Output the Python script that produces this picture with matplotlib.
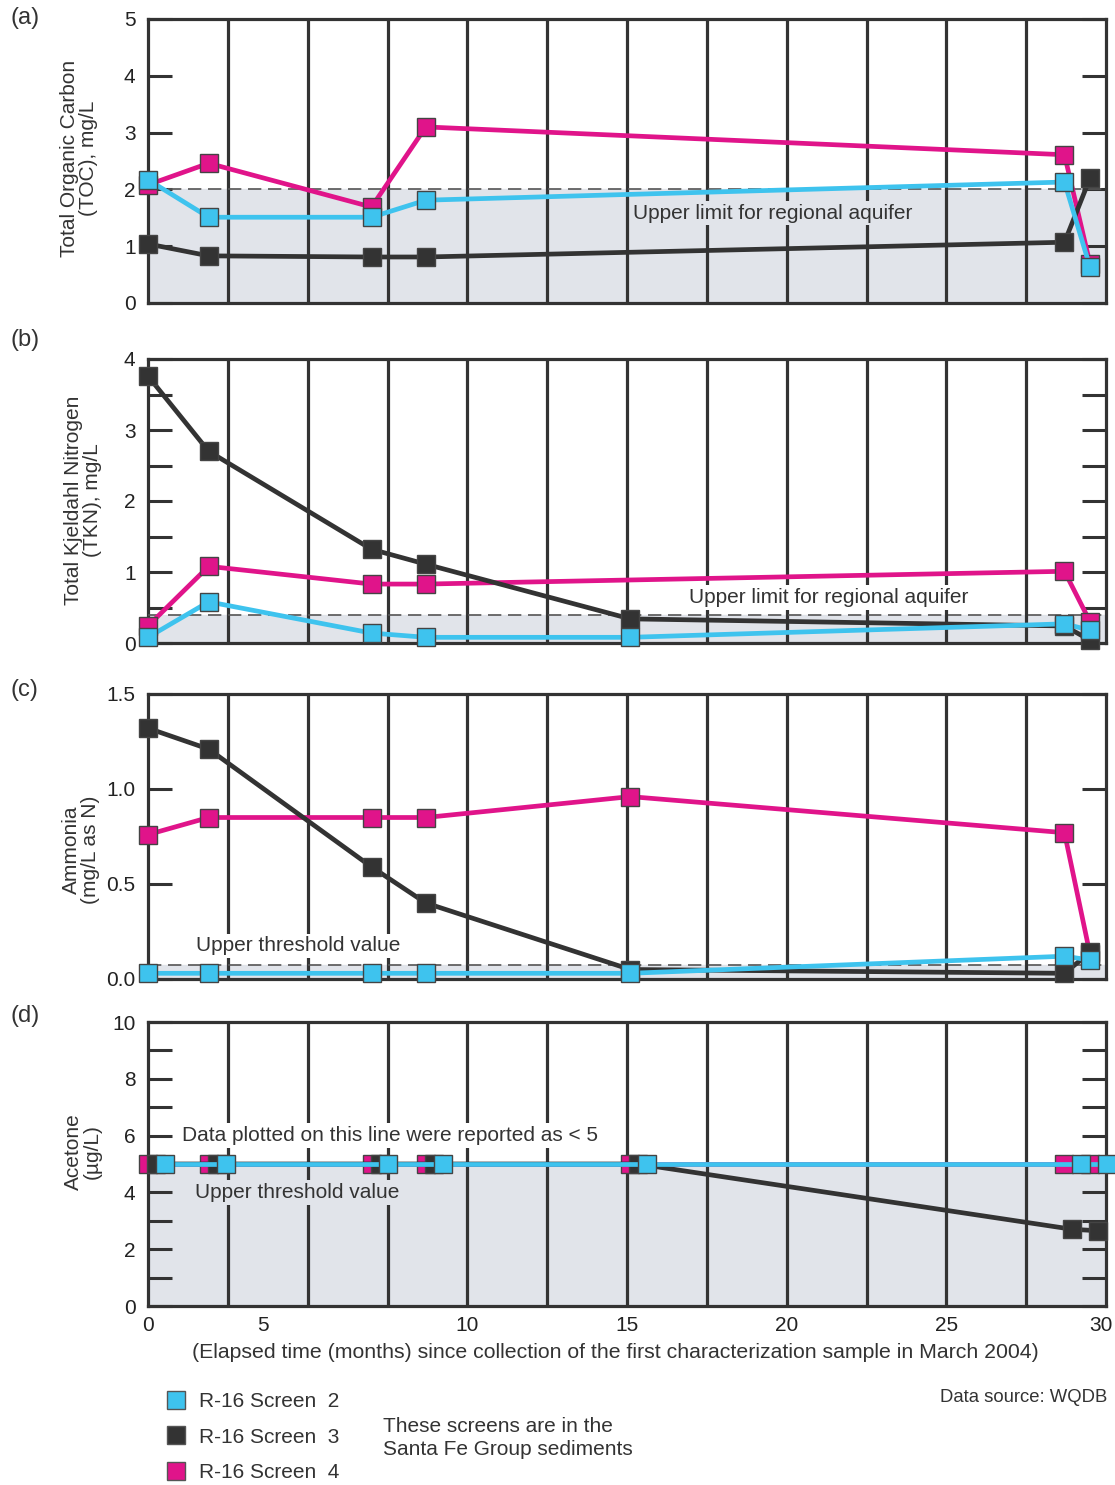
import numpy as np
import matplotlib
matplotlib.use('Agg')
import matplotlib.pyplot as plt
from matplotlib.lines import Line2D

plt.rcParams['font.family'] = ['Liberation Sans', 'DejaVu Sans']

# ---- dados ----
months = [0, 1.9, 7.0, 8.7, 15.1, 28.7, 29.5]
months_no15 = [0, 1.9, 7.0, 8.7, 28.7, 29.5]

# (a) TOC, mg/L
toc_s2 = [2.17, 1.51, 1.51, 1.81, 2.13, 0.63]
toc_s3 = [1.04, 0.83, 0.81, 0.81, 1.07, 2.20]
toc_s4 = [2.08, 2.46, 1.69, 3.10, 2.61, 0.69]

# (b) TKN, mg/L
tkn_s2 = [0.08, 0.58, 0.14, 0.08, 0.08, 0.27, 0.18]
tkn_s3 = [3.76, 2.70, 1.32, 1.11, 0.34, 0.24, 0.04]
tkn_s4 = [0.24, 1.08, 0.83, 0.83, 1.01, 0.30]

# (c) Ammonia, mg/L as N
nh3_s2 = [0.03, 0.03, 0.03, 0.03, 0.03, 0.12, 0.10]
nh3_s3 = [1.32, 1.21, 0.59, 0.40, 0.05, 0.03, 0.14]
nh3_s4 = [0.76, 0.85, 0.85, 0.85, 0.96, 0.77, 0.13]

# (d) Acetone, ug/L
ace_s2 = [5, 5, 5, 5, 5, 5, 5]
ace_s3 = [5, 5, 5, 5, 5, 2.70, 2.65]
ace_s4 = [5, 5, 5, 5, 5, 5, 5]

thresholds = [2.0, 0.4, 0.075, 5.0]
ylims = [5, 4, 1.5, 10]

x_tick_pos = [0, 3.6, 10, 15, 20, 25, 29.85]
x_tick_lab = ['0', '5', '10', '15', '20', '25', '30']

C2 = '#3ec3ee'
C3 = '#333333'
C4 = '#e0148a'
SHADE = '#e1e4ea'
DARK = '#333333'
FS = 15

fig = plt.figure(figsize=(11.15, 14.85), dpi=100)

W, H = 1115.0, 1485.0
left = 148 / W
width = (1106 - 148) / W
tops = [19, 359, 694, 1022]
bots = [303, 643, 979, 1306]

axes = []
for t, b in zip(tops, bots):
    ax = fig.add_axes([left, 1 - b / H, width, (b - t) / H])
    axes.append(ax)


def base(ax, ymax, thr, shade_dash=True):
    ax.set_xlim(0, 30)
    ax.set_ylim(0, ymax)
    ax.axhspan(0, thr, color=SHADE, zorder=0)
    if shade_dash:
        ax.axhline(thr, color='#555555', lw=1.2, dashes=(8, 4), zorder=3)
    # linhas verticais a cada 2.5 meses
    for gx in np.arange(2.5, 30, 2.5):
        ax.axvline(gx, color=DARK, lw=2.3, zorder=1)
    ax.tick_params(axis='x', which='both', length=0)
    ax.tick_params(axis='y', which='both', direction='in', length=17, width=2.2,
                   color=DARK, left=True, right=True, labelsize=FS,
                   labelcolor='#222222', pad=9)
    for s in ax.spines.values():
        s.set_color(DARK)
        s.set_linewidth(2.3)


def series(ax, x, y, c, z):
    ax.plot(x, y, color=c, lw=3.4, marker='s', ms=13, mfc=c, mec='#444444',
            mew=1.0, zorder=z, clip_on=False)


# (a)
ax = axes[0]
base(ax, ylims[0], thresholds[0])
ax.set_yticks([0, 1, 2, 3, 4, 5])
ax.set_xticks(x_tick_pos)
ax.set_xticklabels([])
series(ax, months_no15, toc_s4, C4, 4)
series(ax, months_no15, toc_s3, C3, 5)
series(ax, months_no15, toc_s2, C2, 6)
ax.text(15.2, 1.58, 'Upper limit for regional aquifer', fontsize=FS, color=DARK,
        va='center', ha='left', zorder=2,
        bbox=dict(facecolor=SHADE, edgecolor='none', pad=2))

# (b)
ax = axes[1]
base(ax, ylims[1], thresholds[1])
ax.set_yticks([0, 1, 2, 3, 4])
ax.set_yticks(np.arange(0.5, 4, 1.0), minor=True)
ax.set_xticks(x_tick_pos)
ax.set_xticklabels([])
series(ax, [m for m in months if m != 15.1], tkn_s4, C4, 4)
series(ax, months, tkn_s3, C3, 5)
series(ax, months, tkn_s2, C2, 6)
ax.text(16.95, 0.64, 'Upper limit for regional aquifer', fontsize=FS, color=DARK,
        va='center', ha='left', zorder=2,
        bbox=dict(facecolor='white', edgecolor='none', pad=2))

# (c)
ax = axes[2]
base(ax, ylims[2], thresholds[2])
ax.set_yticks([0.0, 0.5, 1.0, 1.5])
ax.set_yticklabels(['0.0', '0.5', '1.0', '1.5'])
ax.set_xticks(x_tick_pos)
ax.set_xticklabels([])
series(ax, months, nh3_s4, C4, 4)
series(ax, months, nh3_s3, C3, 5)
series(ax, months, nh3_s2, C2, 6)
ax.text(1.5, 0.175, 'Upper threshold value', fontsize=FS, color=DARK,
        va='center', ha='left', zorder=2,
        bbox=dict(facecolor='white', edgecolor='none', pad=2))

# (d) marcadores deslocados para nao se sobreporem
ax = axes[3]
base(ax, ylims[3], thresholds[3], shade_dash=False)
ax.set_yticks([0, 2, 4, 6, 8, 10])
ax.set_yticks([1, 3, 5, 7, 9], minor=True)
ax.set_xticks(x_tick_pos)
ax.set_xticklabels(x_tick_lab, fontsize=FS, color='#222222')
ax.tick_params(axis='x', pad=7)
series(ax, months, ace_s4, C4, 4)
series(ax, [m + 0.25 for m in months], ace_s3, C3, 5)
series(ax, [m + 0.53 for m in months], ace_s2, C2, 6)
ax.text(1.05, 6.0, 'Data plotted on this line were reported as < 5', fontsize=FS,
        color=DARK, va='center', ha='left', zorder=2,
        bbox=dict(facecolor='white', edgecolor='none', pad=2))
ax.text(1.47, 4.0, 'Upper threshold value', fontsize=FS, color=DARK,
        va='center', ha='left', zorder=2,
        bbox=dict(facecolor=SHADE, edgecolor='none', pad=2))

# titulos dos eixos y
ylabels = ['Total Organic Carbon\n(TOC), mg/L',
           'Total Kjeldahl Nitrogen\n(TKN), mg/L',
           'Ammonia\n(mg/L as N)',
           'Acetone\n(\u00b5g/L)']
ylab_xy = [(79, 158), (83, 500), (81, 850), (83, 1152)]
for lab, (px, py) in zip(ylabels, ylab_xy):
    fig.text(px / W, 1 - py / H, lab, rotation=90, ha='center', va='center',
             multialignment='center', fontsize=FS, color='#333333',
             linespacing=1.0)

# letras dos paineis
for lab, py in zip(['(a)', '(b)', '(c)', '(d)'], [18, 340, 690, 1016]):
    fig.text(10 / W, 1 - py / H, lab, ha='left', va='center', fontsize=17,
             color='#333333')

fig.text(615 / W, 1 - 1353 / H,
         '(Elapsed time (months) since collection of the first characterization sample in March 2004)',
         ha='center', va='center', fontsize=15.3, color='#333333')

# legenda
handles = [Line2D([], [], ls='none', marker='s', ms=13, mfc=c, mec='#555555', mew=1.0)
           for c in (C2, C3, C4)]
labels = ['R-16 Screen  2', 'R-16 Screen  3', 'R-16 Screen  4']
fig.legend(handles, labels, loc='upper left', bbox_to_anchor=(155 / W, 1 - 1382 / H),
           frameon=False, fontsize=FS, handlelength=1.0, handletextpad=0.6,
           labelspacing=0.78, borderpad=0, labelcolor='#333333')

fig.text(383 / W, 1 - 1438 / H, 'These screens are in the\nSanta Fe Group sediments',
         ha='left', va='center', fontsize=FS, color='#333333', linespacing=1.3)
fig.text(1107 / W, 1 - 1397 / H, 'Data source: WQDB', ha='right', va='center',
         fontsize=13.3, color='#333333')

fig.savefig('out.png', dpi=100)
